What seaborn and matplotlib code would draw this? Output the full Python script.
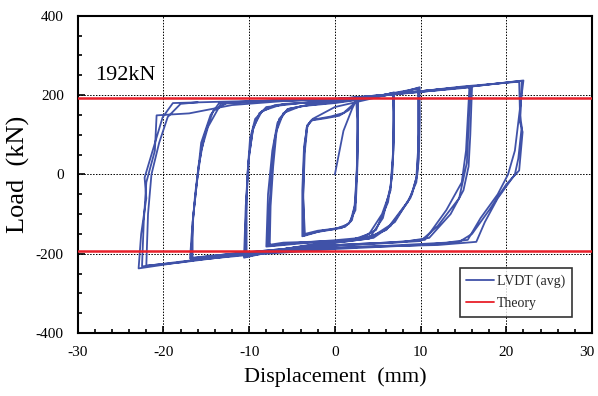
import numpy as np
import pandas as pd
import matplotlib
matplotlib.use("Agg")
import matplotlib.pyplot as plt
import matplotlib.transforms as mtransforms
from matplotlib.ticker import MultipleLocator
import seaborn as sns

# ---- data (displacement mm, load kN) ----
disp_c1 = [0, 1.0, 2.0, 2.5, 2.6, 2.6, 2.4, 2.0, 1.2, -0.5, -2.0, -3.5,
           -3.7, -3.6, -3.3, -2.8, -1.0, 0.5, 1.6, 2.4, 2.6,
           2.7, 2.6, 2.3, 1.8, 0.8, -1.5, -3.4, -3.8,
           -3.8, -3.6, -3.2, -2.6, -0.5, 1.0, 2.2, 2.7,
           2.7, 2.6, 2.4, 1.6, 0.0, -2.0, -3.6,
           -3.7, -3.5, -3.2, -2.6]
load_c1 = [0, 110, 165, 188, 140, 40, -70, -115, -132, -138, -142, -150,
           -60, 50, 118, 136, 142, 148, 162, 182, 190,
           130, 20, -80, -120, -135, -142, -152, -156,
           -40, 70, 125, 138, 146, 155, 178, 192,
           100, 0, -90, -125, -138, -145, -155,
           -50, 60, 122, 140]

disp_c2 = [0, 3, 5, 6.8,
           6.9, 6.8, 6.5, 5.5, 4.0, 2, 0, -3, -6, -7.8,
           -7.7, -7.4, -7.0, -6.5, -5.5, -3, 0, 3, 5.5, 6.9,
           6.9, 6.7, 6.2, 4.8, 3.0, 0, -4, -7.6,
           -7.5, -7.2, -6.8, -6.0, -4, 0, 4, 6.8,
           6.8, 6.5, 5.6, 4.2, 1.0, -4, -8.0,
           -7.8, -7.3, -6.7, -5.5, -3, 0]
load_c2 = [170, 185, 195, 205,
           150, 50, -40, -100, -150, -165, -168, -170, -172, -178,
           -100, 0, 90, 140, 165, 175, 182, 190, 198, 207,
           100, 0, -70, -140, -160, -166, -172, -180,
           -80, 20, 110, 155, 172, 180, 192, 206,
           60, -30, -110, -155, -168, -174, -182,
           -50, 60, 130, 165, 176, 183]

disp_c3 = [3, 6, 8.5, 9.8,
           9.9, 9.8, 9.5, 8.5, 6.5, 4.5, 1, -3, -7, -10.5,
           -10.4, -10.2, -9.9, -9.3, -8.0, -4, 0, 4, 8, 9.9,
           9.8, 9.6, 9.0, 7.0, 4.0, 0, -5, -10.3,
           -10.3, -10.0, -9.5, -8.5, -6, -2, 2, 6, 9.7,
           9.7, 9.5, 8.8, 6.0, 3.5, -1, -6, -10.6,
           -10.4, -10.1, -9.6, -8.8, -7]
load_c3 = [192, 202, 212, 218,
           140, 40, -20, -70, -130, -160, -170, -178, -192, -208,
           -120, 0, 90, 140, 170, 180, 185, 195, 208, 220,
           100, 0, -50, -120, -162, -172, -185, -205,
           -60, 50, 120, 160, 178, 182, 188, 200, 216,
           60, -10, -60, -140, -162, -173, -188, -210,
           -80, 30, 110, 155, 175]

disp_c4 = [-3, 3, 8, 12, 16.0,
           15.9, 15.8, 15.6, 15.0, 13.5, 11.0, 8, 3, -3, -8, -12, -16.9,
           -16.7, -16.3, -15.8, -15.6, -14.5, -13.5, -8, -2, 4, 10, 15.7,
           15.5, 15.3, 14.8, 13.0, 10.5, 6, 0, -6, -12, -16.6,
           -16.6, -16.1, -15.6, -14.8, -13.3, -8, 0, 8, 15.8,
           15.6, 15.4, 14.5, 12.0, 10.0, 4, -4, -10, -16.8,
           -16.5, -15.9, -15.2, -14.2, -12.5]
load_c4 = [182, 192, 205, 212, 220,
           160, 100, 20, -40, -100, -160, -170, -175, -182, -192, -200, -212,
           -150, -50, 40, 80, 150, 180, 185, 188, 195, 210, 222,
           140, 60, -20, -90, -165, -172, -178, -188, -200, -210,
           -120, -20, 60, 120, 178, 186, 190, 205, 221,
           120, 30, -60, -130, -168, -176, -186, -197, -215,
           -100, 20, 100, 160, 182]

disp_c5 = [-6, 2, 10, 16, 21.8,
           21.7, 21.6, 21.9, 21.5, 20.0, 18.0, 16.0, 14.5, 10, 0, -10, -16, -22.9,
           -22.6, -22.0, -22.2, -20.1, -18.9, -14, -8, 0, 8, 15, 21.5,
           21.6, 21.8, 21.4, 21.0, 19, 17.5, 16.5, 12, 4, -4, -12, -18, -22.5,
           -22.3, -22.0, -21.0, -20.8, -17, -12, -6, 2, 10, 16, 22.0,
           21.5, 21.0, 20.2, 19.0, 17, 15.5, 13, 6, -2, -10, -18, -22.0,
           -21.8, -21.4, -20.5, -19.5, -18.0, -16]
load_c5 = [187, 192, 210, 222, 236,
           170, 132, 107, 10, -25, -90, -150, -170, -178, -188, -203, -215, -237,
           -150, -60, -8, 144, 180, 183, 186, 190, 205, 222, 234,
           150, 120, 40, 0, -60, -120, -170, -178, -182, -190, -205, -220, -232,
           -120, -20, 60, 149, 154, 175, 185, 192, 208, 222, 237,
           150, 60, 0, -50, -110, -165, -172, -180, -188, -200, -222, -230,
           -100, 0, 80, 145, 178, 182]

theory_load = 192
x_ticks = [-30, -20, -10, 0, 10, 20, 30]
y_ticks = [-400, -200, 0, 200, 400]

disp = disp_c1 + disp_c2 + disp_c3 + disp_c4 + disp_c5
load = load_c1 + load_c2 + load_c3 + load_c4 + load_c5
df = pd.DataFrame({"Displacement": disp, "Load": load,
                   "order": np.arange(len(disp))})

sns.set_style("ticks")
plt.rcParams["font.family"] = ["Liberation Serif", "DejaVu Serif"]
plt.rcParams["axes.unicode_minus"] = False

fig = plt.figure(figsize=(5.98, 3.96), dpi=100)
ax = fig.add_axes([0.130, 0.159, 0.860, 0.801])

sns.lineplot(data=df, x="Displacement", y="Load", sort=False, estimator=None,
             color="#4052a8", lw=1.3, ax=ax, label="LVDT (avg)", zorder=3)
ax.axhline(theory_load, color="#e8202a", lw=1.8, zorder=4, label="Theory")
ax.axhline(-theory_load, color="#e8202a", lw=1.8, zorder=4)

ax.set_xlim(-30, 30)
ax.set_ylim(-400, 400)
ax.set_xticks(x_ticks)
ax.set_yticks(y_ticks)
ax.xaxis.set_minor_locator(MultipleLocator(2))
ax.yaxis.set_minor_locator(MultipleLocator(50))
ax.tick_params(which="both", direction="in", top=False, right=False,
               labelsize=11, colors="black", width=1.2)
ax.tick_params(which="major", length=5)
ax.tick_params(which="minor", length=3)
ax.tick_params(axis="x", which="major", pad=9)
ax.tick_params(axis="y", which="major", pad=10)
ax.grid(True, which="major", color="black", ls=(0, (1.5, 1.5)), lw=0.7)
for s in ax.spines.values():
    s.set_color("black")
    s.set_linewidth(1.5)

ax.set_xlabel("Displacement  (mm)", fontsize=16, color="black", labelpad=6)
ax.set_ylabel("Load  (kN)", fontsize=19, color="black", labelpad=4)
ax.text(-28, 250, "192kN", fontsize=16, color="black", va="center")

# nudge the last x tick label so it stays inside the figure
fig.canvas.draw()
last = ax.get_xticklabels()[-1]
last.set_transform(last.get_transform() +
                   mtransforms.ScaledTranslation(-4 / 72, 0, fig.dpi_scale_trans))

leg = ax.legend(loc="lower right", bbox_to_anchor=(0.975, 0.03),
                fontsize=10, frameon=True, fancybox=False, handlelength=2.0,
                borderpad=0.5, labelspacing=0.6, handletextpad=0.2)
leg.get_frame().set_edgecolor("black")
leg.get_frame().set_linewidth(1.2)
for h in leg.get_lines():
    h.set_linewidth(1.3)

fig.savefig("out.png", dpi=100)
